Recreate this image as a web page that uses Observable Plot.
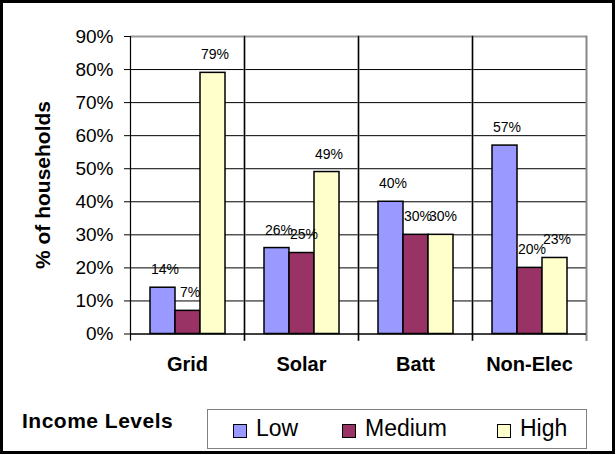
<!DOCTYPE html>
<html>
<head>
<meta charset="utf-8">
<script src="https://cdn.jsdelivr.net/npm/d3@7"></script>
<script src="https://cdn.jsdelivr.net/npm/@observablehq/plot@0.6"></script>
<style>
  html, body { margin: 0; padding: 0; background: #fff; }
  #wrap { position: relative; width: 616px; height: 455px; overflow: hidden; font-family: "Liberation Sans", Arial, sans-serif; }
  #wrap svg { position: absolute; left: 0; top: 0; }
  .border { position: absolute; left: 0; top: 0; width: 615px; height: 454px; box-sizing: border-box; border: 3px solid #000; pointer-events: none; }
  .ytitle { position: absolute; left: 43px; top: 185px; transform: translate(-50%, -50%) rotate(-90deg); font-weight: bold; font-size: 21px; white-space: nowrap; }
  .legtitle { position: absolute; left: 22px; top: 409px; font-weight: bold; font-size: 21px; letter-spacing: 0.5px; line-height: 26px; white-space: nowrap; }
  .legbox { position: absolute; left: 207px; top: 409px; width: 380px; height: 40px; box-sizing: border-box; border: 1.5px solid #808080; background: #fff; }
  .item { position: absolute; top: 0; height: 37px; display: flex; align-items: center; font-size: 23px; white-space: nowrap; }
  .sw { width: 12px; height: 12px; border: 1.5px solid #000; margin-right: 9px; margin-top: 4px; }
</style>
</head>
<body>
<div id="wrap"></div>
<script>
const categories = ["Grid", "Solar", "Batt", "Non-Elec"];
const levels = ["Low", "Medium", "High"];
const lowValues = [14, 26, 40, 57];
const mediumValues = [7, 24.5, 30, 20];
const highValues = [79, 49, 30, 23];
const levelColors = ["#9999FF", "#993366", "#FFFFCC"];
const yTicks = [0, 10, 20, 30, 40, 50, 60, 70, 80, 90];
const yTitle = "% of households";
const legendTitle = "Income Levels";

const series = [lowValues, mediumValues, highValues];
const data = [];
categories.forEach((c, i) => {
  levels.forEach((l, j) => data.push({category: c, level: l, value: series[j][i]}));
});

const font = "'Liberation Sans', Arial, sans-serif";

const chart = Plot.plot({
  width: 616,
  height: 455,
  marginLeft: 129,
  marginRight: 29,
  marginTop: 36,
  marginBottom: 121.5,
  style: {fontFamily: font, background: "transparent", overflow: "visible", color: "#000"},
  fx: {domain: categories, padding: 0, axis: null},
  x: {domain: levels, paddingInner: 0, paddingOuter: 0.7, axis: null},
  y: {domain: [0, 90], axis: null},
  color: {domain: levels, range: levelColors},
  marks: [
    Plot.ruleY(yTicks.filter(t => t > 0 && t < 90), {stroke: "#000", strokeWidth: 1}),
    Plot.ruleY([90], {stroke: "#999", strokeWidth: 2}),
    Plot.frame({anchor: "right", stroke: "#888", strokeWidth: 2, insetBottom: -6}),
    Plot.frame({anchor: "left", stroke: "#000", strokeWidth: 1.2, insetBottom: -6}),
    Plot.barY(data, {fx: "category", x: "level", y: "value", fill: "level", stroke: "#000", strokeWidth: 1.5}),
    Plot.ruleY([0], {stroke: "#000", strokeWidth: 1.5}),
    Plot.text(data, {fx: "category", x: "level", y: "value", text: d => Math.round(d.value) + "%", dy: -18, dx: 2, fontSize: 14, fill: "#000"}),
    Plot.axisY({ticks: yTicks, tickFormat: d => d + "%", tickSize: 6, tickPadding: 11, fontSize: 19, stroke: "#000", label: null}),
    Plot.axisFx({anchor: "bottom", tickSize: 0, tickPadding: 23, fontSize: 20, fontWeight: "bold", label: null})
  ]
});

const wrap = document.getElementById("wrap");
wrap.appendChild(chart);

const t = document.createElement("div");
t.className = "ytitle"; t.textContent = yTitle; wrap.appendChild(t);

const lt = document.createElement("div");
lt.className = "legtitle"; lt.style.top = "408px"; lt.textContent = legendTitle; wrap.appendChild(lt);

const box = document.createElement("div");
box.className = "legbox"; wrap.appendChild(box);
const itemLeft = [25, 134, 289];
levels.forEach((l, j) => {
  const it = document.createElement("div");
  it.className = "item";
  it.style.left = itemLeft[j] + "px";
  const sw = document.createElement("div");
  sw.className = "sw"; sw.style.background = levelColors[j];
  it.appendChild(sw);
  const tx = document.createElement("span");
  tx.textContent = l;
  it.appendChild(tx);
  box.appendChild(it);
});

const b = document.createElement("div");
b.className = "border"; wrap.appendChild(b);
</script>
</body>
</html>
